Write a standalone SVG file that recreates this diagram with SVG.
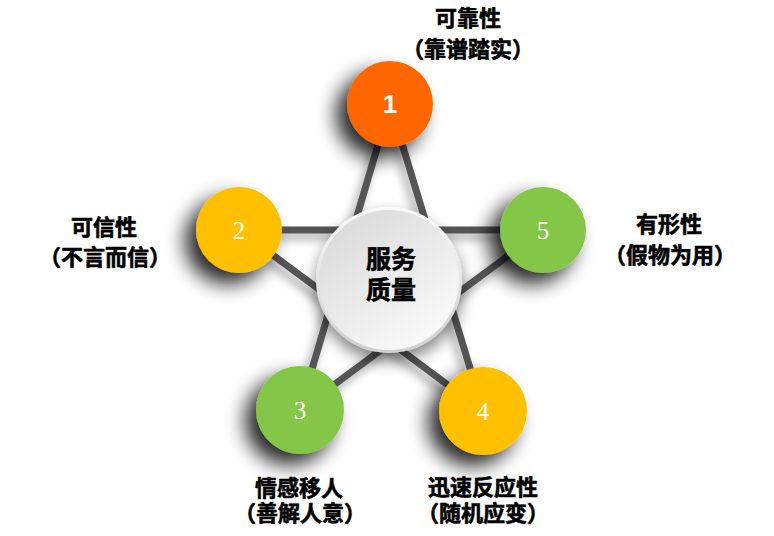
<svg xmlns="http://www.w3.org/2000/svg" width="774" height="536" viewBox="0 0 774 536">
<defs>
<filter id="sh" x="-60%" y="-60%" width="220%" height="220%">
<feGaussianBlur in="SourceAlpha" stdDeviation="10"/>
<feOffset dx="-11" dy="11" result="b"/>
<feComponentTransfer><feFuncA type="linear" slope="0.85"/></feComponentTransfer>
<feMerge><feMergeNode/><feMergeNode in="SourceGraphic"/></feMerge>
</filter>
<filter id="csh" x="-40%" y="-40%" width="180%" height="180%">
<feGaussianBlur in="SourceAlpha" stdDeviation="8"/>
<feOffset dx="0" dy="8" result="b"/>
<feComponentTransfer><feFuncA type="linear" slope="0.5"/></feComponentTransfer>
<feMerge><feMergeNode/><feMergeNode in="SourceGraphic"/></feMerge>
</filter>
<filter id="lsh" x="-30%" y="-30%" width="160%" height="160%">
<feGaussianBlur in="SourceAlpha" stdDeviation="5"/>
<feOffset dx="-4" dy="6" result="b"/>
<feComponentTransfer><feFuncA type="linear" slope="0.35"/></feComponentTransfer>
<feMerge><feMergeNode/><feMergeNode in="SourceGraphic"/></feMerge>
</filter>
<linearGradient id="rim" x1="0" y1="0" x2="0" y2="1">
<stop offset="0" stop-color="#fafafa"/>
<stop offset="1" stop-color="#cfcfcf"/>
</linearGradient>
<linearGradient id="face" x1="0.2" y1="0.1" x2="0.8" y2="0.9">
<stop offset="0" stop-color="#dcdcdc"/>
<stop offset="1" stop-color="#f9f9f9"/>
</linearGradient>
<style>
.ln{stroke:#555;stroke-width:7;fill:none}
.lbl{font-family:"Noto Sans CJK SC","Liberation Sans",sans-serif;font-weight:bold;font-size:22px;fill:#000;stroke:#000;stroke-width:0.6;text-anchor:middle}
.num{font-family:"Liberation Serif",serif;font-size:25px;fill:#fff;text-anchor:middle}
.num1{font-family:"Liberation Sans",sans-serif;font-weight:bold;font-size:26px;fill:#fff;text-anchor:middle}
.ctr{font-family:"Noto Sans CJK SC","Liberation Sans",sans-serif;font-weight:bold;font-size:25px;fill:#000;stroke:#000;stroke-width:0.6;text-anchor:middle}
</style>
</defs>
<rect width="774" height="536" fill="#fff"/>
<g id="connectors" filter="url(#lsh)">
<line class="ln" x1="390" y1="104" x2="300" y2="410"/>
<line class="ln" x1="300" y1="410" x2="543" y2="230"/>
<line class="ln" x1="543" y1="230" x2="239" y2="230"/>
<line class="ln" x1="239" y1="230" x2="483" y2="411"/>
<line class="ln" x1="483" y1="411" x2="390" y2="104"/>
</g>
<g id="center">
<circle cx="389" cy="280" r="73" fill="url(#rim)" filter="url(#csh)"/>
<circle cx="389" cy="280" r="70" fill="url(#face)"/>
<text class="ctr" x="391" y="268">服务</text>
<text class="ctr" x="391" y="299">质量</text>
</g>
<g id="node1">
<circle cx="390" cy="104" r="43" fill="#ff6600" filter="url(#sh)"/>
<text class="num1" x="390" y="113">1</text>
<text class="lbl" x="468" y="26">可靠性</text>
<text class="lbl" x="468" y="57">（靠谱踏实）</text>
</g>
<g id="node2">
<circle cx="239" cy="230" r="43" fill="#ffc000" filter="url(#sh)"/>
<text class="num" x="239" y="239">2</text>
<text class="lbl" x="104" y="235">可信性</text>
<text class="lbl" x="105" y="265">（不言而信）</text>
</g>
<g id="node3">
<circle cx="300" cy="410" r="44" fill="#84c646" filter="url(#sh)"/>
<text class="num" x="300" y="419">3</text>
<text class="lbl" x="299" y="496">情感移人</text>
<text class="lbl" x="300" y="521">（善解人意）</text>
</g>
<g id="node4">
<circle cx="483" cy="411" r="44" fill="#ffc000" filter="url(#sh)"/>
<text class="num" x="483" y="420">4</text>
<text class="lbl" x="483" y="495">迅速反应性</text>
<text class="lbl" x="483" y="521">（随机应变）</text>
</g>
<g id="node5">
<circle cx="543" cy="230" r="43" fill="#84c646" filter="url(#sh)"/>
<text class="num" x="543" y="239">5</text>
<text class="lbl" x="669" y="232">有形性</text>
<text class="lbl" x="670" y="263">（假物为用）</text>
</g>
</svg>
